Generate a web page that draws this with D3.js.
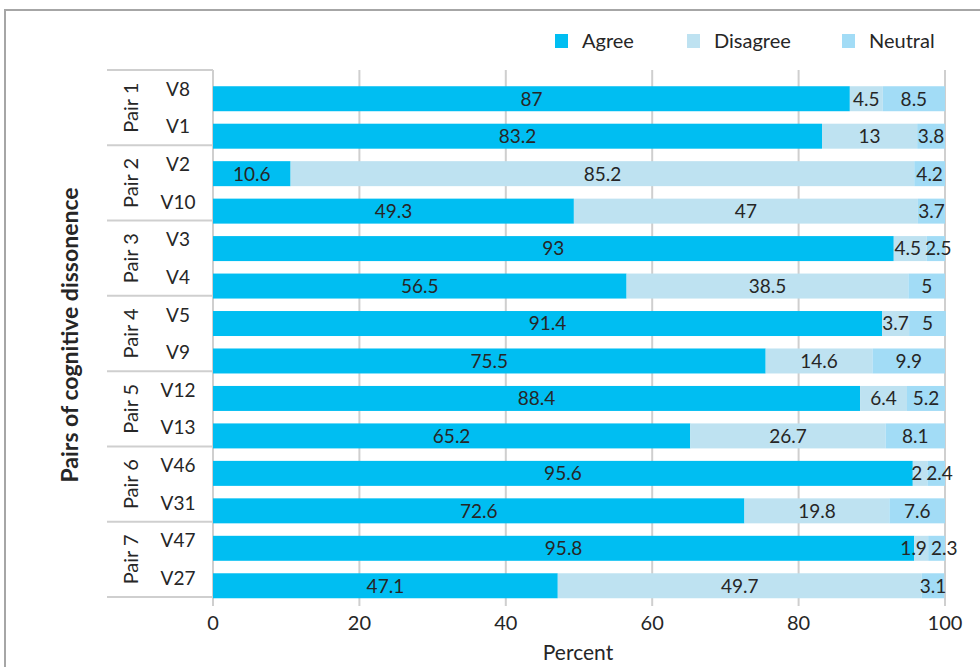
<!DOCTYPE html>
<html>
<head>
<meta charset="utf-8">
<script src="https://cdn.jsdelivr.net/npm/d3@7"></script>
<style>
  body { margin: 0; background: #fff; }
  svg text { font-family: Lato, "Open Sans", sans-serif; fill: #262626; }
</style>
</head>
<body>
<svg class="chart" width="980" height="667"></svg>
<script>
	// data
	var pairs = ["Pair 1", "Pair 2", "Pair 3", "Pair 4", "Pair 5", "Pair 6", "Pair 7"];
	var items = ["V8", "V1", "V2", "V10", "V3", "V4", "V5", "V9", "V12", "V13", "V46", "V31", "V47", "V27"];
	var agree    = [87, 83.2, 10.6, 49.3, 93, 56.5, 91.4, 75.5, 88.4, 65.2, 95.6, 72.6, 95.8, 47.1];
	var disagree = [4.5, 13, 85.2, 47, 4.5, 38.5, 3.7, 14.6, 6.4, 26.7, 2, 19.8, 1.9, 49.7];
	var neutral  = [8.5, 3.8, 4.2, 3.7, 2.5, 5, 5, 9.9, 5.2, 8.1, 2.4, 7.6, 2.3, 3.1];
	var seriesNames = ["Agree", "Disagree", "Neutral"];
	var xTicks = [0, 20, 40, 60, 80, 100];

	var colors = {Agree: "#00bef2", Disagree: "#bee2f1", Neutral: "#a2dcf6"};

	var svg = d3.select("svg.chart");

	// chart area border (only top/left visible in the crop)
	svg.append("rect")
		.attr("x", 5).attr("y", 10)
		.attr("width", 1000).attr("height", 700)
		.attr("fill", "none")
		.attr("stroke", "#a6a6a6")
		.attr("stroke-width", 2);

	var plotTop = 70, plotBottom = 597;

	var x = d3.scaleLinear().domain([0, 100]).range([213, 945]);

	// label rows (category axis) and bar rows are offset a bit, like the original
	var yLab = d3.scaleBand().domain(items).range([plotTop, plotBottom]);
	var yBar = d3.scaleBand().domain(items).range([80, 604.5]).paddingInner(0.333).paddingOuter(0.1665);

	var rows = items.map(function(id, i) {
		return {id: id, Agree: agree[i], Disagree: disagree[i], Neutral: neutral[i]};
	});
	var stacked = d3.stack().keys(seriesNames)(rows);

	// gridlines + tick marks
	svg.append("g").selectAll("line")
		.data(xTicks)
		.enter().append("line")
		.attr("x1", function(d) { return x(d); })
		.attr("x2", function(d) { return x(d); })
		.attr("y1", plotTop)
		.attr("y2", plotBottom + 9)
		.attr("stroke", "#cfcfcf")
		.attr("stroke-width", 2);

	// separators on the grouped category axis
	var seps = d3.range(0, pairs.length + 1).map(function(k) { return plotTop + k * 2 * yLab.step(); });
	svg.append("g").selectAll("line")
		.data(seps)
		.enter().append("line")
		.attr("x1", 107).attr("x2", 213)
		.attr("y1", function(d) { return d; })
		.attr("y2", function(d) { return d; })
		.attr("stroke", "#cfcfcf")
		.attr("stroke-width", 2);

	// bars
	var layer = svg.append("g").selectAll("g.layer")
		.data(stacked)
		.enter().append("g")
		.attr("class", "layer")
		.attr("fill", function(d) { return colors[d.key]; });

	layer.selectAll("rect")
		.data(function(d) { return d; })
		.enter().append("rect")
		.attr("x", function(d) { return x(d[0]); })
		.attr("y", function(d) { return yBar(d.data.id); })
		.attr("width", function(d) { return x(d[1]) - x(d[0]); })
		.attr("height", yBar.bandwidth());

	// value labels
	var labG = svg.append("g");
	var labs = [];
	stacked.forEach(function(s) {
		s.forEach(function(p, i) {
			labs.push({row: i, key: s.key, v: p.data[s.key], cx: (x(p[0]) + x(p[1])) / 2, id: p.data.id});
		});
	});

	var labText = labG.selectAll("text")
		.data(labs)
		.enter().append("text")
		.attr("x", function(d) { return d.cx; })
		.attr("y", function(d) { return yBar(d.id) + yBar.bandwidth() / 2; })
		.attr("dy", "0.36em")
		.attr("text-anchor", "middle")
		.style("font-size", "19px")
		.text(function(d) { return d.v; });

	// nudge labels apart when small segments sit next to each other (excel does that too)
	labText.each(function(d) { d.w = this.getComputedTextLength(); });
	d3.range(items.length).forEach(function(r) {
		var rl = labs.filter(function(d) { return d.row == r; });
		for (var k = 1; k < rl.length; k++) {
			var a = rl[k - 1], b = rl[k];
			var need = (a.w + b.w) / 2 + 4;
			var have = b.cx - a.cx;
			if (have < need) {
				a.cx -= (need - have) / 2;
				b.cx += (need - have) / 2;
			}
		}
	});
	labText.attr("x", function(d) { return d.cx; });

	// item labels
	svg.append("g").selectAll("text")
		.data(items)
		.enter().append("text")
		.attr("x", 178)
		.attr("y", function(d) { return yLab(d) + yLab.bandwidth() / 2; })
		.attr("dy", "0.36em")
		.attr("text-anchor", "middle")
		.style("font-size", "19px")
		.text(function(d) { return d; });

	// pair labels, rotated
	svg.append("g").selectAll("text")
		.data(pairs)
		.enter().append("text")
		.attr("transform", function(d, i) {
			var cy = plotTop + (i * 2 + 1) * yLab.step();
			return "translate(131," + cy + ") rotate(-90)";
		})
		.attr("dy", "0.36em")
		.attr("text-anchor", "middle")
		.style("font-size", "20px")
		.text(function(d) { return d; });

	// x tick labels
	svg.append("g").selectAll("text")
		.data(xTicks)
		.enter().append("text")
		.attr("x", function(d) { return x(d); })
		.attr("y", 623)
		.attr("dy", "0.36em")
		.attr("text-anchor", "middle")
		.style("font-size", "20px")
		.text(function(d) { return d; });

	svg.append("text")
		.attr("x", 578).attr("y", 652)
		.attr("dy", "0.36em")
		.attr("text-anchor", "middle")
		.style("font-size", "21px")
		.text("Percent");

	svg.append("text")
		.attr("transform", "translate(70,335) rotate(-90)")
		.attr("dy", "0.36em")
		.attr("text-anchor", "middle")
		.style("font-size", "23px")
		.style("font-weight", "bold")
		.text("Pairs of cognitive dissonence");

	// legend
	var legX = [555, 687, 842];
	var leg = svg.append("g").selectAll("g")
		.data(seriesNames)
		.enter().append("g")
		.attr("transform", function(d, i) { return "translate(" + legX[i] + ",34)"; });
	leg.append("rect")
		.attr("width", 13).attr("height", 14)
		.attr("fill", function(d) { return colors[d]; });
	leg.append("text")
		.attr("x", 27).attr("y", 7)
		.attr("dy", "0.36em")
		.style("font-size", "20px")
		.text(function(d) { return d; });
</script>
</body>
</html>
